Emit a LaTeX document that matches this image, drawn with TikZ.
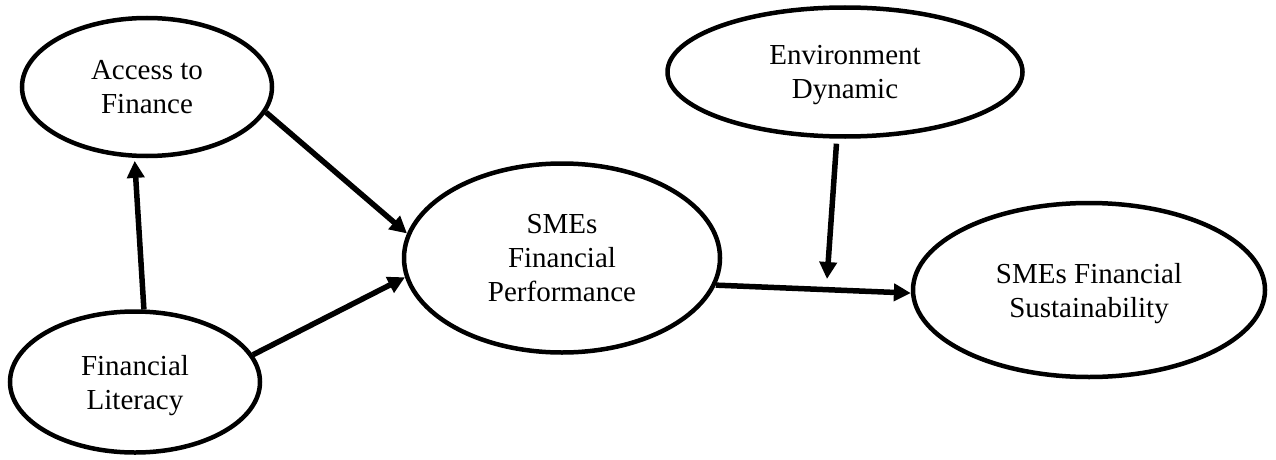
\documentclass[tikz,border=0pt]{standalone}
\usepackage{fontspec}
\setmainfont{Liberation Serif}
\usetikzlibrary{shapes.geometric,arrows.meta}
\tikzset{
  var/.style={draw=black, line width=4.5pt, ellipse, inner sep=0pt, align=center,
    font=\fontsize{29}{34}\selectfont},
  arr/.style={line width=5.5pt, -{Triangle[length=17pt,width=17pt]}}
}
\begin{document}
\begin{tikzpicture}[x=1pt,y=-1pt]
\useasboundingbox (0,0) rectangle (1276,460);
\node[var, minimum width=250pt, minimum height=138pt] (access) at (147,87) {Access to\\\smash{Finance}};
\node[var, minimum width=250pt, minimum height=141pt] (literacy) at (135,382) {Financial\\\smash{Literacy}};
\node[var, minimum width=316pt, minimum height=189pt] (perf) at (562,258) {SMEs\\Financial\\\smash{Performance}};
\node[var, minimum width=355pt, minimum height=129pt] (env) at (845,72) {Environment\\\smash{Dynamic}};
\node[var, minimum width=352pt, minimum height=174pt] (sust) at (1089,290) {SMEs Financial\\\smash{Sustainability}};
\coordinate (mod) at (827,279);
\draw[arr, shorten >=3pt] (literacy.83.5) -- (access.260);
\draw[arr] (access.-12) -- (perf.171);
\draw[arr] (literacy.13) -- (perf.187);
\draw[arr] (perf.-10) -- (sust.181);
\draw[arr, shorten <=5pt] (env.263) -- (mod);
\end{tikzpicture}
\end{document}
